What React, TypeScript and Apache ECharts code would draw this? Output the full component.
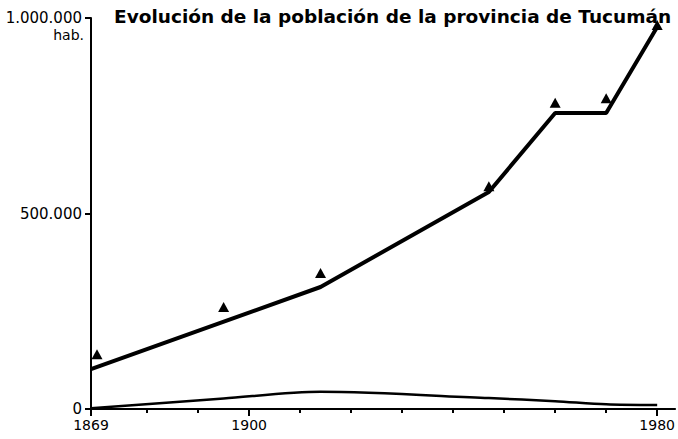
import React, { useEffect, useRef } from "react";
import * as echarts from "echarts";

const TITLE = "Evolución de la población de la provincia de Tucumán";
const UNIT = "hab.";

// modelled population (thick line), at its break years
const lineYears = [1869, 1914, 1947, 1960, 1970, 1980];
const lineValues = [102000, 312000, 555000, 757000, 757000, 977000];

// census counts (triangles)
const censusYears = [1869, 1895, 1914, 1947, 1960, 1970, 1980];
const censusValues = [140000, 261000, 348000, 570000, 783000, 795000, 982000];

// thin line near the bottom
const thinYears = [1869, 1895, 1914, 1947, 1960, 1970, 1980];
const thinValues = [2000, 27000, 44000, 28000, 20000, 12000, 10000];

const xLabelYears = [1869, 1900, 1980];
const xMinorTicks = [1880, 1890, 1910, 1920, 1930, 1940, 1950, 1960, 1970];
const yTickValues = [0, 500000, 1000000];
const yTickLabels = ["0", "500.000", "1.000.000"];

const FONT = "DejaVu Sans";

export default function App() {
  const ref = useRef<HTMLDivElement>(null);
  useEffect(() => {
    if (!ref.current) return;
    const chart = echarts.init(ref.current, null, { renderer: "svg" });
    const xMin = 1869;
    const xMax = 1983.5;
    chart.setOption({
      animation: false,
      backgroundColor: "#ffffff",
      title: {
        text: TITLE,
        left: 109,
        top: 2,
        textStyle: { fontFamily: FONT, fontWeight: "bold", fontSize: 18.5, color: "#000" },
      },
      grid: { left: 91, right: 0, top: 18, bottom: 30 },
      xAxis: [
        {
          type: "value",
          min: xMin,
          max: xMax,
          position: "bottom",
          splitLine: { show: false },
          axisLine: { show: true, lineStyle: { color: "#000", width: 2 } },
          axisTick: { show: true, customValues: xMinorTicks, length: 4, lineStyle: { color: "#000", width: 2 } },
          axisLabel: { show: false },
        },
        {
          type: "value",
          min: xMin,
          max: xMax,
          position: "bottom",
          splitLine: { show: false },
          axisLine: { show: false },
          axisTick: { show: true, customValues: xLabelYears, length: 7, lineStyle: { color: "#000", width: 2 } },
          axisLabel: {
            show: true,
            customValues: xLabelYears,
            margin: 9,
            fontFamily: FONT,
            fontSize: 14,
            lineHeight: 13,
            color: "#000",
            formatter: (v: number) => String(v),
          },
        },
      ],
      yAxis: {
        type: "value",
        min: 0,
        max: 1000000,
        interval: 500000,
        splitLine: { show: false },
        axisLine: { show: true, lineStyle: { color: "#000", width: 2 } },
        axisTick: { show: true, length: 6, lineStyle: { color: "#000", width: 2 } },
        axisLabel: {
          margin: 9,
          fontFamily: FONT,
          fontSize: 15,
          lineHeight: 12,
          color: "#000",
          formatter: (v: number) => {
            const i = yTickValues.indexOf(v);
            return i >= 0 ? yTickLabels[i] : "";
          },
        },
      },
      graphic: [
        {
          type: "text",
          right: 678 - 84,
          top: 28,
          style: { text: UNIT, fontFamily: FONT, fontSize: 14, fill: "#000", align: "right" },
        },
      ],
      series: [
        {
          type: "line",
          data: thinYears.map((y, i) => [y, thinValues[i]]),
          showSymbol: false,
          smooth: 0.3,
          lineStyle: { color: "#000", width: 2.5 },
          z: 3,
        },
        {
          type: "line",
          data: lineYears.map((y, i) => [y, lineValues[i]]),
          showSymbol: false,
          lineStyle: { color: "#000", width: 4 },
          z: 4,
        },
        {
          type: "scatter",
          data: censusYears.map((y, i) =>
            i === 0 ? { value: [y, censusValues[i]], symbolOffset: [6, 0] } : [y, censusValues[i]]
          ),
          symbol: "triangle",
          symbolSize: [11, 10],
          itemStyle: { color: "#000", opacity: 1 },
          z: 5,
        },
      ],
    });
    return () => chart.dispose();
  }, []);
  return (
    <div
      ref={ref}
      style={{ position: "fixed", left: 0, top: 0, width: 678, height: 439, background: "#fff" }}
    />
  );
}
